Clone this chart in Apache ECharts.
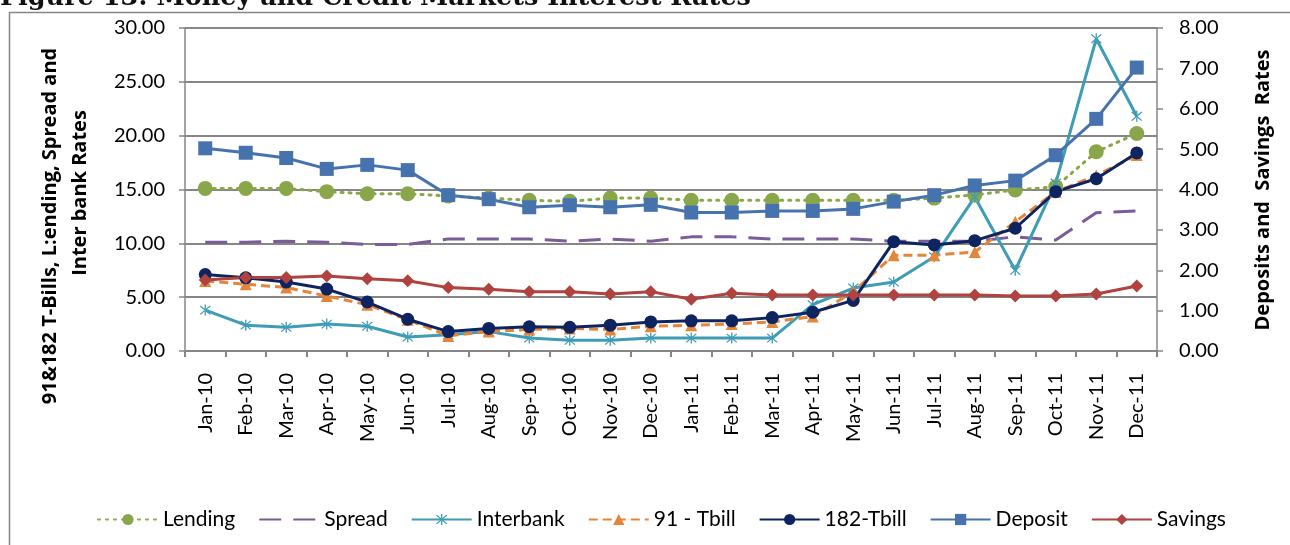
<!DOCTYPE html>
<html>
<head>
<meta charset="utf-8">
<script src="https://cdn.jsdelivr.net/npm/echarts@6/dist/echarts.min.js"></script>
<style>
  html, body { margin: 0; padding: 0; background: #fff; }
  #main { width: 1290px; height: 545px; }
</style>
</head>
<body>
<div id="main"></div>
<script>
// months on the x axis
const months = ['Jan-10','Feb-10','Mar-10','Apr-10','May-10','Jun-10','Jul-10','Aug-10','Sep-10','Oct-10','Nov-10','Dec-10',
  'Jan-11','Feb-11','Mar-11','Apr-11','May-11','Jun-11','Jul-11','Aug-11','Sep-11','Oct-11','Nov-11','Dec-11'];

// left axis series
const lending   = [15.1,15.1,15.1,14.8,14.6,14.6,14.4,14.2,14.0,13.9,14.2,14.2,14.0,14.0,14.0,14.0,14.0,14.0,14.2,14.5,14.95,15.25,18.5,20.2];
const spread    = [10.1,10.1,10.2,10.1,9.9,9.9,10.4,10.4,10.4,10.2,10.4,10.2,10.6,10.6,10.4,10.4,10.4,10.2,10.2,10.2,10.6,10.3,12.85,13.0];
const interbank = [3.8,2.4,2.2,2.5,2.3,1.3,1.5,1.8,1.2,1.0,1.0,1.2,1.2,1.2,1.2,4.3,5.85,6.4,8.75,14.3,7.5,15.6,29.0,21.8];
const tbill91   = [6.5,6.2,5.9,5.1,4.3,2.9,1.4,1.8,2.0,2.1,2.0,2.3,2.4,2.5,2.7,3.2,5.5,8.9,8.9,9.2,12.0,14.8,16.3,18.2];
const tbill182  = [7.1,6.8,6.4,5.75,4.55,2.95,1.8,2.1,2.25,2.2,2.4,2.7,2.8,2.8,3.1,3.6,4.7,10.15,9.85,10.25,11.4,14.8,16.0,18.4];

// right axis series
const deposit = [5.02,4.91,4.78,4.51,4.61,4.48,3.86,3.76,3.56,3.61,3.56,3.62,3.43,3.43,3.47,3.47,3.52,3.70,3.86,4.10,4.22,4.85,5.75,7.02];
const savings = [1.76,1.82,1.82,1.86,1.79,1.74,1.57,1.53,1.47,1.47,1.41,1.47,1.28,1.43,1.39,1.39,1.39,1.39,1.39,1.39,1.36,1.36,1.41,1.61];

const fontName = 'Lato';
const gray = '#868686';
// asterisk marker for interbank
const starIcon = 'path://M9,0h2v20h-2z M1.5,2.9l1.4,-1.4l15.6,15.6l-1.4,1.4z M18.5,2.9l-1.4,-1.4l-15.6,15.6l1.4,1.4z';

let chart = echarts.init(document.getElementById('main'), null, {renderer: 'canvas'});

function line(name, data, color, opts) {
  return Object.assign({
    name: name,
    type: 'line',
    data: data,
    yAxisIndex: 0,
    symbol: 'none',
    symbolSize: 12,
    showSymbol: true,
    lineStyle: {color: color, width: 3},
    itemStyle: {color: color},
    emphasis: {disabled: true},
    animation: false
  }, opts || {});
}

const titleFont = 'bold 20px "Open Sans"';

const option = {
  animation: false,
  grid: {left: 185, right: 133, top: 28, bottom: 194, containLabel: false},
  graphic: [
    {type: 'rect', shape: {x: 9.5, y: 12.5, width: 1400, height: 700},
      style: {fill: 'none', stroke: gray, lineWidth: 1.5}, silent: true},
    {type: 'text', left: 0, top: -15,
      style: {text: 'Figure 13: Money and Credit Markets Interest Rates', font: 'bold 25.5px "DejaVu Serif"', fill: '#111'}},
    {type: 'text', x: 50, y: 226, rotation: Math.PI / 2,
      style: {text: '91&182 T-Bills, L:ending, Spread and', font: titleFont, fill: '#000',
        align: 'center', verticalAlign: 'middle'}},
    {type: 'text', x: 80, y: 193, rotation: Math.PI / 2,
      style: {text: 'Inter bank Rates', font: titleFont, fill: '#000',
        align: 'center', verticalAlign: 'middle'}},
    {type: 'text', x: 1263, y: 190, rotation: Math.PI / 2,
      style: {text: 'Deposits and  Savings  Rates', font: titleFont, fill: '#000',
        align: 'center', verticalAlign: 'middle'}}
  ],
  legend: {
    left: 92,
    top: 504,
    itemWidth: 60,
    itemHeight: 14,
    itemGap: 23,
    textStyle: {fontFamily: fontName, fontSize: 21, color: '#000'},
    data: ['Lending',
      {name: 'Spread', itemStyle: {color: 'rgba(0,0,0,0)', borderWidth: 0}},
      'Interbank','91 - Tbill','182-Tbill','Deposit','Savings']
  },
  xAxis: {
    type: 'category',
    data: months,
    boundaryGap: true,
    axisLine: {lineStyle: {color: gray, width: 2}},
    axisTick: {show: true, interval: 0, length: 6, lineStyle: {color: gray, width: 2}},
    axisLabel: {interval: 0, rotate: 90, margin: 22, fontFamily: fontName, fontSize: 20, color: '#000', hideOverlap: false},
    splitLine: {show: false}
  },
  yAxis: [
    {
      type: 'value', min: 0, max: 30, interval: 5, position: 'left',
      axisLine: {show: true, lineStyle: {color: gray, width: 1.5}},
      axisTick: {show: true, length: 6, lineStyle: {color: gray, width: 1.5}},
      axisLabel: {margin: 20, fontFamily: fontName, fontSize: 20, color: '#000', formatter: v => v.toFixed(2)},
      splitLine: {show: true, lineStyle: {color: gray, width: 2}}
    },
    {
      type: 'value', min: 0, max: 8, interval: 1, position: 'right',
      axisLine: {show: true, lineStyle: {color: gray, width: 1.5}},
      axisTick: {show: true, length: 6, lineStyle: {color: gray, width: 1.5}},
      axisLabel: {margin: 22, fontFamily: fontName, fontSize: 20, color: '#000', formatter: v => v.toFixed(2)},
      splitLine: {show: false}
    }
  ],
  series: [
    line('Lending', lending, '#8AA64A', {symbol: 'circle', symbolSize: 15,
      lineStyle: {color: '#8AA64A', width: 3, type: [2, 6], cap: 'round'}}),
    line('Spread', spread, '#7A5C98', {lineStyle: {color: '#7A5C98', width: 3, type: [22, 12]}}),
    line('Interbank', interbank, '#3E9CB6', {symbol: starIcon, symbolSize: 11}),
    line('91 - Tbill', tbill91, '#E5853A', {symbol: 'triangle', symbolSize: 12,
      lineStyle: {color: '#E5853A', width: 3, type: [9, 5]}}),
    line('182-Tbill', tbill182, '#0D2461', {symbol: 'circle', symbolSize: 13}),
    line('Deposit', deposit, '#4672AD', {yAxisIndex: 1, symbol: 'rect', symbolSize: 14}),
    line('Savings', savings, '#B0423F', {yAxisIndex: 1, symbol: 'diamond', symbolSize: 13})
  ]
};

if (option && typeof option === 'object') {
  chart.setOption(option);
}
window.addEventListener('resize', chart.resize);
</script>
</body>
</html>
